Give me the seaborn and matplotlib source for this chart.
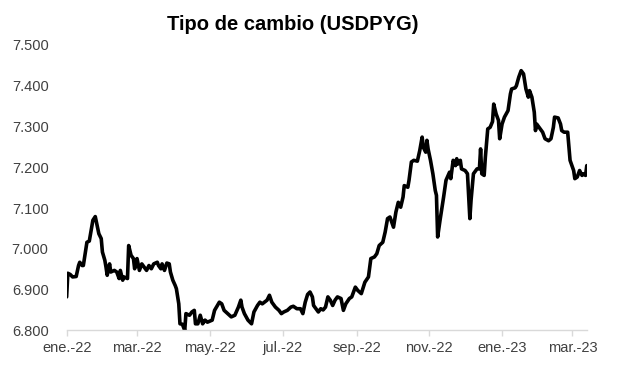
import matplotlib
matplotlib.use("Agg")
import matplotlib.pyplot as plt
import matplotlib.ticker as mticker
import seaborn as sns
import pandas as pd

dates = [
    "2022-01-01", "2022-01-02", "2022-01-04", "2022-01-06", "2022-01-09", "2022-01-11", "2022-01-12",
    "2022-01-14", "2022-01-15", "2022-01-18", "2022-01-20", "2022-01-23", "2022-01-25", "2022-01-26",
    "2022-01-28", "2022-01-30", "2022-01-31", "2022-02-02", "2022-02-03", "2022-02-04", "2022-02-06",
    "2022-02-07", "2022-02-10", "2022-02-12", "2022-02-14", "2022-02-15", "2022-02-17", "2022-02-18",
    "2022-02-21", "2022-02-22", "2022-02-24", "2022-02-26", "2022-02-27", "2022-03-01", "2022-03-03",
    "2022-03-05", "2022-03-07", "2022-03-09", "2022-03-11", "2022-03-13", "2022-03-15", "2022-03-18",
    "2022-03-19", "2022-03-21", "2022-03-22", "2022-03-24", "2022-03-26", "2022-03-28", "2022-03-29",
    "2022-03-31", "2022-04-02", "2022-04-03", "2022-04-05", "2022-04-06", "2022-04-08", "2022-04-10",
    "2022-04-11", "2022-04-14", "2022-04-16", "2022-04-18", "2022-04-19", "2022-04-21", "2022-04-23",
    "2022-04-25", "2022-04-27", "2022-04-29", "2022-05-03", "2022-05-05", "2022-05-09", "2022-05-11",
    "2022-05-13", "2022-05-16", "2022-05-19", "2022-05-22", "2022-05-25", "2022-05-27", "2022-05-28",
    "2022-05-30", "2022-06-02", "2022-06-05", "2022-06-07", "2022-06-10", "2022-06-12", "2022-06-14",
    "2022-06-18", "2022-06-20", "2022-06-22", "2022-06-25", "2022-06-28", "2022-06-30", "2022-07-02",
    "2022-07-05", "2022-07-08", "2022-07-10", "2022-07-13", "2022-07-16", "2022-07-18", "2022-07-20",
    "2022-07-22", "2022-07-24", "2022-07-26", "2022-07-27", "2022-07-29", "2022-07-31", "2022-08-02",
    "2022-08-04", "2022-08-06", "2022-08-08", "2022-08-10", "2022-08-12", "2022-08-14", "2022-08-16",
    "2022-08-19", "2022-08-21", "2022-08-23", "2022-08-26", "2022-08-28", "2022-08-31", "2022-09-02",
    "2022-09-05", "2022-09-08", "2022-09-11", "2022-09-13", "2022-09-16", "2022-09-18", "2022-09-20",
    "2022-09-23", "2022-09-25", "2022-09-27", "2022-09-29", "2022-10-02", "2022-10-04", "2022-10-06",
    "2022-10-08", "2022-10-10", "2022-10-11", "2022-10-14", "2022-10-15", "2022-10-17", "2022-10-19",
    "2022-10-22", "2022-10-24", "2022-10-26", "2022-10-27", "2022-10-29", "2022-10-30", "2022-10-31",
    "2022-11-02", "2022-11-04", "2022-11-06", "2022-11-07", "2022-11-08", "2022-11-10", "2022-11-13",
    "2022-11-15", "2022-11-18", "2022-11-19", "2022-11-21", "2022-11-23", "2022-11-24", "2022-11-25",
    "2022-11-27", "2022-11-28", "2022-12-01", "2022-12-03", "2022-12-05", "2022-12-06", "2022-12-08",
    "2022-12-11", "2022-12-13", "2022-12-14", "2022-12-15", "2022-12-17", "2022-12-18", "2022-12-20",
    "2022-12-22", "2022-12-24", "2022-12-25", "2022-12-27", "2022-12-29", "2022-12-30", "2023-01-01",
    "2023-01-03", "2023-01-06", "2023-01-08", "2023-01-09", "2023-01-12", "2023-01-13", "2023-01-15",
    "2023-01-17", "2023-01-19", "2023-01-21", "2023-01-23", "2023-01-24", "2023-01-26", "2023-01-28",
    "2023-01-29", "2023-01-30", "2023-02-02", "2023-02-04", "2023-02-06", "2023-02-09", "2023-02-11",
    "2023-02-13", "2023-02-14", "2023-02-17", "2023-02-19", "2023-02-20", "2023-02-22", "2023-02-25",
    "2023-02-27", "2023-03-02", "2023-03-03", "2023-03-05", "2023-03-07", "2023-03-09", "2023-03-10",
    "2023-03-12", "2023-03-13",
]

usdpyg = [
    6882, 6940, 6937, 6931, 6932, 6959, 6967,
    6959, 6959, 7016, 7019, 7070, 7079, 7065,
    7037, 7025, 6992, 6972, 6955, 6935, 6963,
    6943, 6947, 6943, 6927, 6947, 6923, 6931,
    6927, 7008, 6984, 6976, 6951, 6976, 6947,
    6963, 6955, 6947, 6959, 6951, 6963, 6967,
    6959, 6951, 6963, 6947, 6965, 6963, 6943,
    6923, 6910, 6902, 6865, 6816, 6815, 6800,
    6841, 6837, 6845, 6849, 6816, 6816, 6837,
    6816, 6825, 6820, 6825, 6849, 6869, 6865,
    6849, 6841, 6833, 6837, 6857, 6874, 6857,
    6841, 6825, 6816, 6845, 6861, 6869, 6865,
    6874, 6886, 6869, 6857, 6849, 6841, 6845,
    6849, 6857, 6859, 6853, 6853, 6841, 6869,
    6888, 6894, 6882, 6861, 6853, 6845, 6853,
    6850, 6857, 6882, 6874, 6861, 6874, 6882,
    6878, 6849, 6865, 6878, 6882, 6906, 6898,
    6890, 6918, 6931, 6976, 6980, 6988, 7008,
    7016, 7041, 7074, 7078, 7053, 7090, 7114,
    7102, 7127, 7155, 7151, 7168, 7213, 7217,
    7215, 7241, 7274, 7249, 7237, 7266, 7245,
    7217, 7184, 7143, 7131, 7029, 7070, 7127,
    7168, 7188, 7172, 7217, 7204, 7221, 7208,
    7217, 7196, 7192, 7184, 7074, 7119, 7184,
    7196, 7196, 7245, 7184, 7180, 7225, 7294,
    7298, 7312, 7355, 7331, 7315, 7270, 7306,
    7323, 7339, 7380, 7392, 7395, 7400, 7421,
    7437, 7429, 7392, 7372, 7388, 7372, 7335,
    7290, 7306, 7294, 7286, 7270, 7265, 7270,
    7298, 7323, 7321, 7306, 7290, 7286, 7286,
    7217, 7192, 7172, 7176, 7192, 7180, 7184,
    7180, 7204,
]

tick_dates = ["2022-01-01", "2022-03-01", "2022-05-01", "2022-07-01", "2022-09-01",
              "2022-11-01", "2023-01-01", "2023-03-01"]
tick_labels = ["ene.-22", "mar.-22", "may.-22", "jul.-22", "sep.-22", "nov.-22", "ene.-23", "mar.-23"]
y_ticks = [6800, 6900, 7000, 7100, 7200, 7300, 7400, 7500]
title = "Tipo de cambio (USDPYG)"

df = pd.DataFrame({"fecha": pd.to_datetime(dates), "valor": usdpyg})

sns.set_theme(style="white")
plt.rcParams["font.family"] = ["Liberation Sans", "DejaVu Sans"]

fig = plt.figure(figsize=(6.17, 3.81), dpi=100)
ax = fig.add_axes([0.108, 0.133, 0.843, 0.749])

sns.lineplot(data=df, x="fecha", y="valor", ax=ax, color="black", linewidth=2.6)

ax.set_xlim(pd.Timestamp("2022-01-01"), pd.Timestamp("2023-03-13"))
ax.set_ylim(6800, 7500)
ax.set_yticks(y_ticks)
ax.yaxis.set_major_formatter(mticker.FuncFormatter(lambda v, p: f"{int(v):,}".replace(",", ".")))
ax.set_xticks(pd.to_datetime(tick_dates))
ax.set_xticklabels(tick_labels)

ax.set_xlabel("")
ax.set_ylabel("")
for s in ["top", "right", "left"]:
    ax.spines[s].set_visible(False)
ax.spines["bottom"].set_color("#d9d9d9")
ax.spines["bottom"].set_linewidth(1.0)

ax.tick_params(axis="x", which="major", length=4, width=1, color="#d9d9d9",
               labelsize=10.5, labelcolor="#404040", pad=4, bottom=True)
ax.tick_params(axis="y", length=0, labelsize=10.5, labelcolor="#404040", pad=13)

fig.text(0.475, 0.935, title, ha="center", va="center", fontsize=14.5, fontweight="bold", color="black")

fig.savefig("out.png", dpi=100)
